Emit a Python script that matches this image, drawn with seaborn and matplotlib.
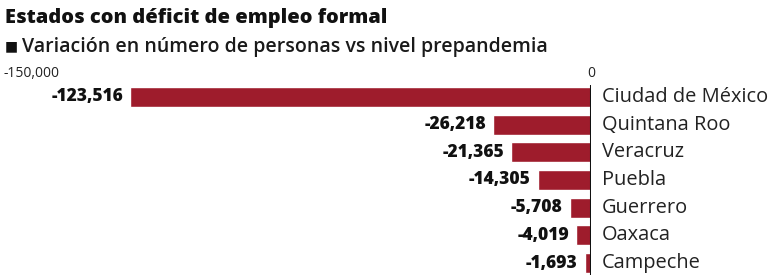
import matplotlib
matplotlib.use("Agg")
import matplotlib.pyplot as plt
import seaborn as sns
import pandas as pd

states = ["Ciudad de México", "Quintana Roo", "Veracruz", "Puebla", "Guerrero", "Oaxaca", "Campeche"]
values = [-123516, -26218, -21365, -14305, -5708, -4019, -1693]
tick_values = [-150000, 0]
tick_labels = ["-150,000", "0"]

title = "Estados con déficit de empleo formal"
subtitle = "Variación en número de personas vs nivel prepandemia"

sns.set_theme(style="white")
plt.rcParams['font.family'] = ['Open Sans', 'DejaVu Sans']

df = pd.DataFrame({"estado": states, "valor": values})

fig = plt.figure(figsize=(7.74, 2.75), dpi=100)
W, H = 774, 275
ax = fig.add_axes([31 / W, 0, (591 - 31) / W, 190 / H])

sns.barplot(data=df, x="valor", y="estado", orient="h", color="#9e1c2c",
            saturation=1, width=0.72, ax=ax)

ax.set_xlim(-150000, 0)
ax.set_ylim(6.43, -0.43)
ax.set_xticks(tick_values)
ax.set_xticklabels(tick_labels, fontsize=10, color="#222222")
ax.xaxis.tick_top()
ax.tick_params(axis="x", length=0, pad=3)
ax.set_yticks([])
ax.set_xlabel("")
ax.set_ylabel("")
for s in ax.spines.values():
    s.set_visible(False)
ax.axvline(0, color="#111111", lw=2.2)

for i, (st, v) in enumerate(zip(states, values)):
    ax.annotate(f"{v:,}", xy=(v, i), xytext=(-5, 0), textcoords="offset points",
                ha="right", va="center", fontsize=12.5, fontweight="heavy", color="#111111")
    ax.annotate(st, xy=(0, i), xytext=(8, 0), textcoords="offset points",
                ha="left", va="center", fontsize=14.4, color="#222222", annotation_clip=False)

fig.text(5 / W, 1 - 18 / H, title, fontsize=14.4, fontweight="heavy", color="#111111",
         va="center", ha="left")
fig.text(5 / W, 1 - 47 / H, "■", fontsize=10, color="#111111", va="center", ha="left")
fig.text(22 / W, 1 - 47 / H, subtitle, fontsize=14, fontweight="semibold", color="#1a1a1a",
         va="center", ha="left")

fig.savefig("out.png", dpi=100)
